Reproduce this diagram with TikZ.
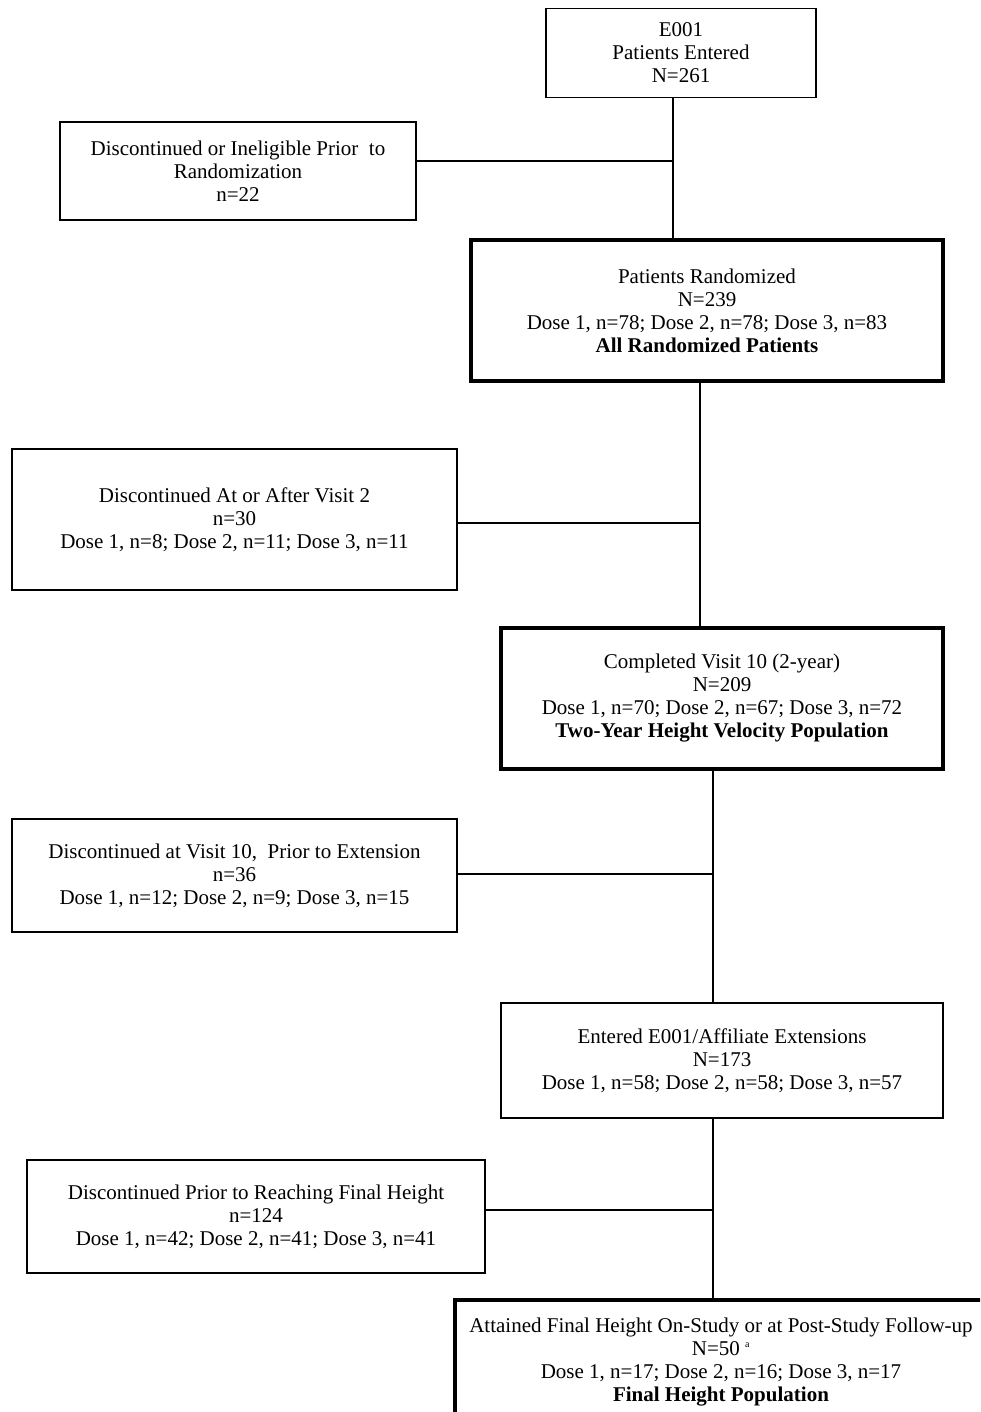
\documentclass[tikz,border=0pt]{standalone}
\usepackage{fontspec}
\setmainfont{Liberation Serif}
\begin{document}
\begin{tikzpicture}[x=1pt, y=-1pt]
    % Define styles
    \tikzset{
        flowbox/.style={draw, line width=1.6pt, inner sep=0pt, align=center, font={\fontsize{21}{23}\selectfont}},
        mainbox/.style={flowbox, line width=3.6pt},
        connector/.style={line width=1.8pt}
    }
    \useasboundingbox (0,0) rectangle (980,1412);
    \clip (0,0) rectangle (980,1412);

    % Main flow boxes
    \node[flowbox, minimum width=270, minimum height=89] (entered) at (681,53) {E001\\Patients Entered\\N=261};
    \node[mainbox, minimum width=472, minimum height=141] (randomized) at (707,310.5) {Patients Randomized\\N=239\\Dose 1, n=78; Dose 2, n=78; Dose 3, n=83\\\textbf{All Randomized Patients}};
    \node[mainbox, minimum width=442, minimum height=141] (completed) at (722,698.5) {Completed Visit 10 (2-year)\\N=209\\Dose 1, n=70; Dose 2, n=67; Dose 3, n=72\\\textbf{Two-Year Height Velocity Population}};
    \node[flowbox, minimum width=442, minimum height=115] (extension) at (722,1060.5) {Entered E001/Affiliate Extensions\\N=173\\Dose 1, n=58; Dose 2, n=58; Dose 3, n=57};
    \node[mainbox, minimum width=532, minimum height=124] (finalht) at (721,1362) {Attained Final Height On-Study or at Post-Study Follow-up\\N=50 \textsuperscript{\fontsize{10}{10}\selectfont a}\\Dose 1, n=17; Dose 2, n=16; Dose 3, n=17\\\textbf{Final Height Population}};

    % Discontinuation boxes
    \node[flowbox, minimum width=356, minimum height=98] (inelig) at (238,171) {Discontinued or Ineligible Prior~ to\\Randomization\\n=22};
    \node[flowbox, minimum width=445, minimum height=141] (discvtwo) at (234.5,519.5) {Discontinued At or After Visit 2\\n=30\\Dose 1, n=8; Dose 2, n=11; Dose 3, n=11};
    \node[flowbox, minimum width=445, minimum height=113] (discvten) at (234.5,875.5) {Discontinued at Visit 10,~ Prior to Extension\\n=36\\Dose 1, n=12; Dose 2, n=9; Dose 3, n=15};
    \node[flowbox, minimum width=458, minimum height=113] (discfinal) at (256,1216.5) {Discontinued Prior to Reaching Final Height\\n=124\\Dose 1, n=42; Dose 2, n=41; Dose 3, n=41};

    % Junction points on the vertical lines
    \coordinate (j1) at (673,161);
    \coordinate (j2) at (700,523);
    \coordinate (j3) at (713,874);
    \coordinate (j4) at (713,1210);

    % Vertical connectors
    \draw[connector] (entered.south -| j1) -- (randomized.north -| j1);
    \draw[connector] (randomized.south -| j2) -- (completed.north -| j2);
    \draw[connector] (completed.south -| j3) -- (extension.north -| j3);
    \draw[connector] (extension.south -| j4) -- (finalht.north -| j4);

    % Horizontal connectors
    \draw[connector] (inelig.east |- j1) -- (j1);
    \draw[connector] (discvtwo.east |- j2) -- (j2);
    \draw[connector] (discvten.east |- j3) -- (j3);
    \draw[connector] (discfinal.east |- j4) -- (j4);

\end{tikzpicture}
\end{document}
